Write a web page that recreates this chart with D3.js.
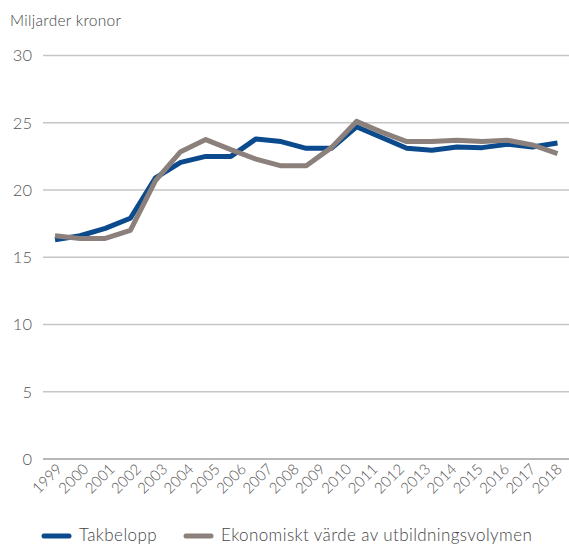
<!DOCTYPE html>
<html>
<head>
<meta charset="utf-8">
<script src="https://cdn.jsdelivr.net/npm/d3@7"></script>
<style>
  body { margin: 0; background: #fff; }
  svg { display: block; font-family: Lato, "Open Sans", sans-serif; font-weight: 300; }
</style>
</head>
<body>
<svg id="chart" width="569" height="544"></svg>
<script>
// Category labels on the x axis
var years = ['1999','2000','2001','2002','2003','2004','2005','2006','2007','2008',
  '2009','2010','2011','2012','2013','2014','2015','2016','2017','2018'];
// Series values (billion SEK), as drawn in the original (21 points)
var takbelopp = [16.3, 16.6, 17.15, 17.9, 20.9, 22.05, 22.5, 22.5, 23.8, 23.6,
  23.1, 23.1, 24.7, 23.9, 23.1, 22.95, 23.2, 23.15, 23.4, 23.2, 23.5];
var volym = [16.6, 16.4, 16.4, 17.0, 20.7, 22.85, 23.75, 23.0, 22.3, 21.8,
  21.8, 23.15, 25.1, 24.3, 23.6, 23.6, 23.7, 23.6, 23.7, 23.35, 22.7];
var yTicks = [0, 5, 10, 15, 20, 25, 30];
var seriesNames = ['Takbelopp', 'Ekonomiskt värde av utbildningsvolymen'];
var colors = ['#0b4a8c', '#8b807b'];

var svg = d3.select('#chart');

// y scale
var y = d3.scaleLinear().domain([0, 30]).range([459, 55.5]);
// x scale for the lines (one position per value)
var x = d3.scalePoint().domain(d3.range(takbelopp.length)).range([55, 557.5]);
// x scale for the year labels
var xLab = d3.scaleBand().domain(years).range([43, 569]);

// Title
svg.append('text')
  .attr('x', 10).attr('y', 26)
  .attr('font-size', 15.5).attr('fill', '#444')
  .attr('letter-spacing', 0.3)
  .text('Miljarder kronor');

// Gridlines
svg.append('g').selectAll('line')
  .data(yTicks).enter()
  .append('line')
  .attr('x1', 43).attr('x2', 569)
  .attr('y1', function (d) { return y(d); })
  .attr('y2', function (d) { return y(d); })
  .attr('stroke', function (d) { return d === 0 ? '#a0a0a0' : '#c6c6c6'; })
  .attr('stroke-width', 1.5);

// y labels
svg.append('g').selectAll('text')
  .data(yTicks).enter()
  .append('text')
  .attr('x', 32)
  .attr('y', function (d) { return y(d); })
  .attr('dy', '0.35em')
  .attr('text-anchor', 'end')
  .attr('font-size', 16.5).attr('fill', '#555')
  .text(function (d) { return d; });

// x labels, rotated
svg.append('g').selectAll('text')
  .data(years).enter()
  .append('text')
  .attr('transform', function (d) {
    return 'translate(' + (xLab(d) + xLab.bandwidth() / 2 + 7) + ',470) rotate(-45)';
  })
  .attr('text-anchor', 'end')
  .attr('font-size', 15).attr('fill', '#555')
  .text(function (d) { return d; });

// Lines
var line = d3.line()
  .x(function (d, i) { return x(i); })
  .y(function (d) { return y(d); });

svg.append('g').selectAll('path')
  .data([takbelopp, volym]).enter()
  .append('path')
  .attr('d', line)
  .attr('fill', 'none')
  .attr('stroke', function (d, i) { return colors[i]; })
  .attr('stroke-width', 5)
  .attr('stroke-linejoin', 'round');

// Legend
var legendX = [42, 184];
var legend = svg.append('g').selectAll('g')
  .data(seriesNames).enter()
  .append('g')
  .attr('transform', function (d, i) { return 'translate(' + legendX[i] + ',536)'; });

legend.append('line')
  .attr('x1', 2).attr('x2', 27)
  .attr('stroke', function (d, i) { return colors[i]; })
  .attr('stroke-width', 5)
  .attr('stroke-linecap', 'round');

legend.append('text')
  .attr('x', 37).attr('y', 5)
  .attr('font-size', 17).attr('fill', '#444')
  .attr('letter-spacing', 0.4)
  .text(function (d) { return d; });
</script>
</body>
</html>
